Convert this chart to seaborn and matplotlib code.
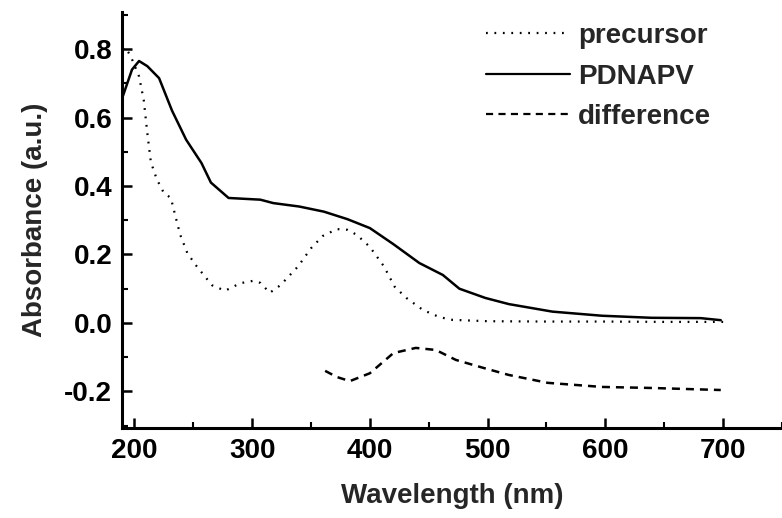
import numpy as np
import pandas as pd
import matplotlib
matplotlib.use("Agg")
import matplotlib.pyplot as plt
import seaborn as sns

# ---- data ----
pdnapv_x = [190, 193, 198, 204, 211, 221, 232, 244, 257, 265, 280, 307, 318, 340,
            361, 381, 400, 420, 442, 462, 476, 498, 518, 555, 597, 639, 681, 698]
pdnapv_y = [0.66, 0.69, 0.74, 0.765, 0.75, 0.715, 0.62, 0.535, 0.467, 0.41, 0.365,
            0.36, 0.35, 0.34, 0.325, 0.303, 0.277, 0.23, 0.175, 0.14, 0.10, 0.073,
            0.055, 0.033, 0.021, 0.015, 0.014, 0.008]

precursor_x = [190, 192, 195, 198, 204, 208, 211, 214, 219, 225, 231, 235, 239, 245,
               253, 266, 277, 290, 301, 307, 315, 324, 339, 350, 360, 372, 381, 389,
               400, 412, 421, 431, 445, 459, 470, 500, 550, 600, 650, 700]
precursor_y = [0.80, 0.805, 0.79, 0.77, 0.72, 0.65, 0.555, 0.47, 0.42, 0.38, 0.365,
               0.31, 0.257, 0.204, 0.165, 0.11, 0.094, 0.116, 0.123, 0.117, 0.088,
               0.11, 0.165, 0.218, 0.254, 0.274, 0.272, 0.257, 0.222, 0.165, 0.106,
               0.073, 0.038, 0.017, 0.009, 0.005, 0.004, 0.004, 0.003, 0.003]

difference_x = [362, 372, 383, 400, 420, 439, 456, 473, 496, 518, 551, 597, 639, 698]
difference_y = [-0.14, -0.158, -0.17, -0.147, -0.088, -0.073, -0.079, -0.108, -0.131,
                -0.152, -0.175, -0.187, -0.190, -0.196]

series_names = ["precursor", "PDNAPV", "difference"]
x_ticks = [200, 300, 400, 500, 600, 700]
y_ticks = [-0.2, 0.0, 0.2, 0.4, 0.6, 0.8]
x_label = "Wavelength (nm)"
y_label = "Absorbance (a.u.)"

# ---- style ----
sns.set_theme(style="ticks")
plt.rcParams["font.family"] = ["Liberation Sans", "DejaVu Sans"]
FS = 20

fig = plt.figure(figsize=(7.82, 5.18), dpi=100)
ax = fig.add_axes([0.156, 0.1737, 0.844, 0.803])

df_p = pd.DataFrame({"x": precursor_x, "y": precursor_y})
df_s = pd.DataFrame({"x": pdnapv_x, "y": pdnapv_y})
df_d = pd.DataFrame({"x": difference_x, "y": difference_y})

sns.lineplot(data=df_p, x="x", y="y", ax=ax, color="black", lw=1.6,
             label=series_names[0], sort=False)
sns.lineplot(data=df_s, x="x", y="y", ax=ax, color="black", lw=1.8,
             label=series_names[1], sort=False)
sns.lineplot(data=df_d, x="x", y="y", ax=ax, color="black", lw=1.8,
             label=series_names[2], sort=False)
lines = ax.get_lines()
lines[0].set_linestyle((0, (0.8, 3.0)))
lines[2].set_linestyle((0, (3.2, 2.4)))

ax.set_xlim(189.5, 744)
ax.set_ylim(-0.307, 0.908)
ax.set_xticks(x_ticks)
ax.set_yticks(y_ticks)
ax.set_xticks(np.arange(250, 751, 100), minor=True)
ax.set_yticks(np.arange(-0.3, 0.91, 0.2), minor=True)
ax.set_yticklabels([f"{v:.1f}" for v in y_ticks])

for s in ["top", "right"]:
    ax.spines[s].set_visible(False)
for s in ["left", "bottom"]:
    ax.spines[s].set_linewidth(2.2)
    ax.spines[s].set_color("black")

ax.tick_params(which="major", direction="in", length=7, width=1.8,
               labelsize=FS, pad=7, colors="black")
ax.tick_params(which="minor", direction="in", length=4, width=1.5, colors="black")
for lab in ax.get_xticklabels() + ax.get_yticklabels():
    lab.set_fontweight("bold")

ax.set_xlabel(x_label, fontsize=FS, fontweight="bold", labelpad=14)
ax.set_ylabel(y_label, fontsize=FS, fontweight="bold", labelpad=12)

leg = ax.legend(loc="upper left", bbox_to_anchor=(0.535, 1.0), frameon=False,
                fontsize=FS, handlelength=3.0, handletextpad=0.3,
                labelspacing=0.52, borderaxespad=0)
for t in leg.get_texts():
    t.set_fontweight("bold")
for h in leg.get_lines():
    h.set_linewidth(1.6)

fig.savefig("out.png", dpi=100)
